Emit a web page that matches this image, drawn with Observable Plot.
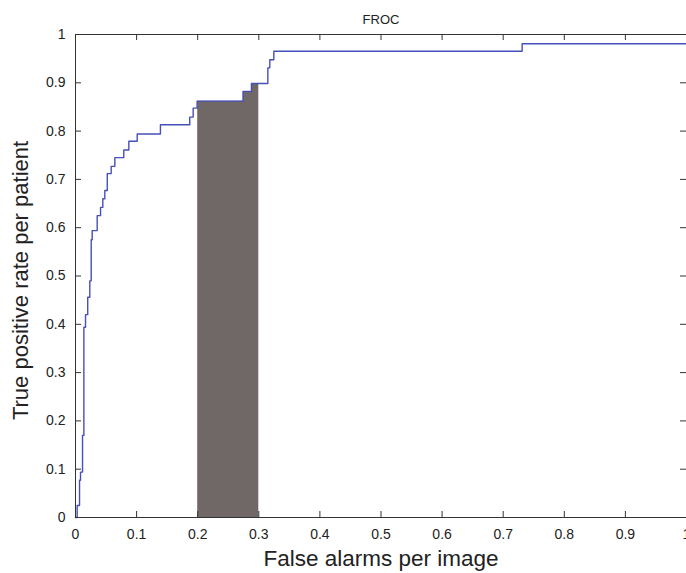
<!DOCTYPE html>
<html>
<head>
<meta charset="utf-8">
<script src="https://cdn.jsdelivr.net/npm/d3@7"></script>
<script src="https://cdn.jsdelivr.net/npm/@observablehq/plot@0.6"></script>
<style>
  html, body { margin: 0; padding: 0; background: #fff; }
</style>
</head>
<body>
<div id="chart"></div>
<script>
// FROC step curve: false alarms per image (x) where the rate steps up to tpr (y)
const falseAlarms = [0, 0.0027, 0.0066, 0.0082, 0.0115, 0.0137, 0.0164, 0.020, 0.0234, 0.0257, 0.0273,
  0.0355, 0.041, 0.0447, 0.048, 0.052, 0.0584, 0.0644, 0.079, 0.0873, 0.101, 0.139, 0.187,
  0.1926, 0.199, 0.2744, 0.288, 0.3148, 0.318, 0.3246, 0.731, 1.0];
const truePositive = [0, 0.025, 0.077, 0.094, 0.17, 0.394, 0.42, 0.456, 0.49, 0.575, 0.594,
  0.625, 0.642, 0.66, 0.677, 0.712, 0.727, 0.745, 0.761, 0.779, 0.794, 0.813, 0.829,
  0.8475, 0.862, 0.882, 0.8985, 0.931, 0.9476, 0.9654, 0.981, 0.981];
// highlighted operating range
const bandStart = 0.2, bandEnd = 0.3;
const xTicks = [0, 0.1, 0.2, 0.3, 0.4, 0.5, 0.6, 0.7, 0.8, 0.9, 1];
const yTicks = [0, 0.1, 0.2, 0.3, 0.4, 0.5, 0.6, 0.7, 0.8, 0.9, 1];
const title = "FROC";
const xLabel = "False alarms per image";
const yLabel = "True positive rate per patient";

const curve = falseAlarms.map((x, i) => ({x, y: truePositive[i]}));
// value of step curve at given x
function stepAt(x) {
  let v = 0;
  for (const p of curve) if (p.x <= x) v = p.y;
  return v;
}
const band = [{x: bandStart, y: stepAt(bandStart)}]
  .concat(curve.filter(p => p.x > bandStart && p.x < bandEnd))
  .concat([{x: bandEnd, y: stepAt(bandEnd)}]);

const W = 686, H = 573, mL = 75, mR = 0, mT = 34, mB = 56;
const plotW = W - mL - mR, plotH = H - mT - mB;
const tk = 6;
const fmt = d => String(d);

const chart = Plot.plot({
  width: W, height: H,
  marginLeft: mL, marginRight: mR, marginTop: mT, marginBottom: mB,
  style: {fontFamily: "'Liberation Sans', Arial, sans-serif", fontSize: "14px", color: "#222", background: "#fff"},
  x: {domain: [0, 1], ticks: xTicks, tickSize: 0, tickPadding: 12, tickFormat: fmt, label: null},
  y: {domain: [0, 1], ticks: yTicks, tickSize: 0, tickPadding: 10, tickFormat: fmt, label: null},
  marks: [
    Plot.areaY(band, {x: "x", y: "y", curve: "step-after", fill: "#706866"}),
    Plot.line(curve, {x: "x", y: "y", curve: "step-after", stroke: "#4650b8", strokeWidth: 1.4}),
    Plot.frame({stroke: "#333", strokeWidth: 1}),
    // inward ticks on all four sides
    Plot.ruleX(xTicks, {x: d => d, insetTop: plotH - tk, stroke: "#333"}),
    Plot.ruleX(xTicks, {x: d => d, insetBottom: plotH - tk, stroke: "#333"}),
    Plot.ruleY(yTicks, {y: d => d, insetRight: plotW - tk, stroke: "#333"}),
    Plot.ruleY(yTicks, {y: d => d, insetLeft: plotW - tk, stroke: "#333"}),
    Plot.text([title], {frameAnchor: "top", dy: -20, text: d => d, fontSize: 13, fill: "#222"}),
    Plot.text([xLabel], {frameAnchor: "bottom", lineAnchor: "middle", textAnchor: "middle", dy: 41, text: d => d, fontSize: 22.5, fill: "#222"}),
    Plot.text([yLabel], {frameAnchor: "left", lineAnchor: "middle", textAnchor: "middle", dx: -55, dy: 4.5, rotate: -90, text: d => d, fontSize: 22, fill: "#222"})
  ]
});
document.getElementById("chart").appendChild(chart);
</script>
</body>
</html>
